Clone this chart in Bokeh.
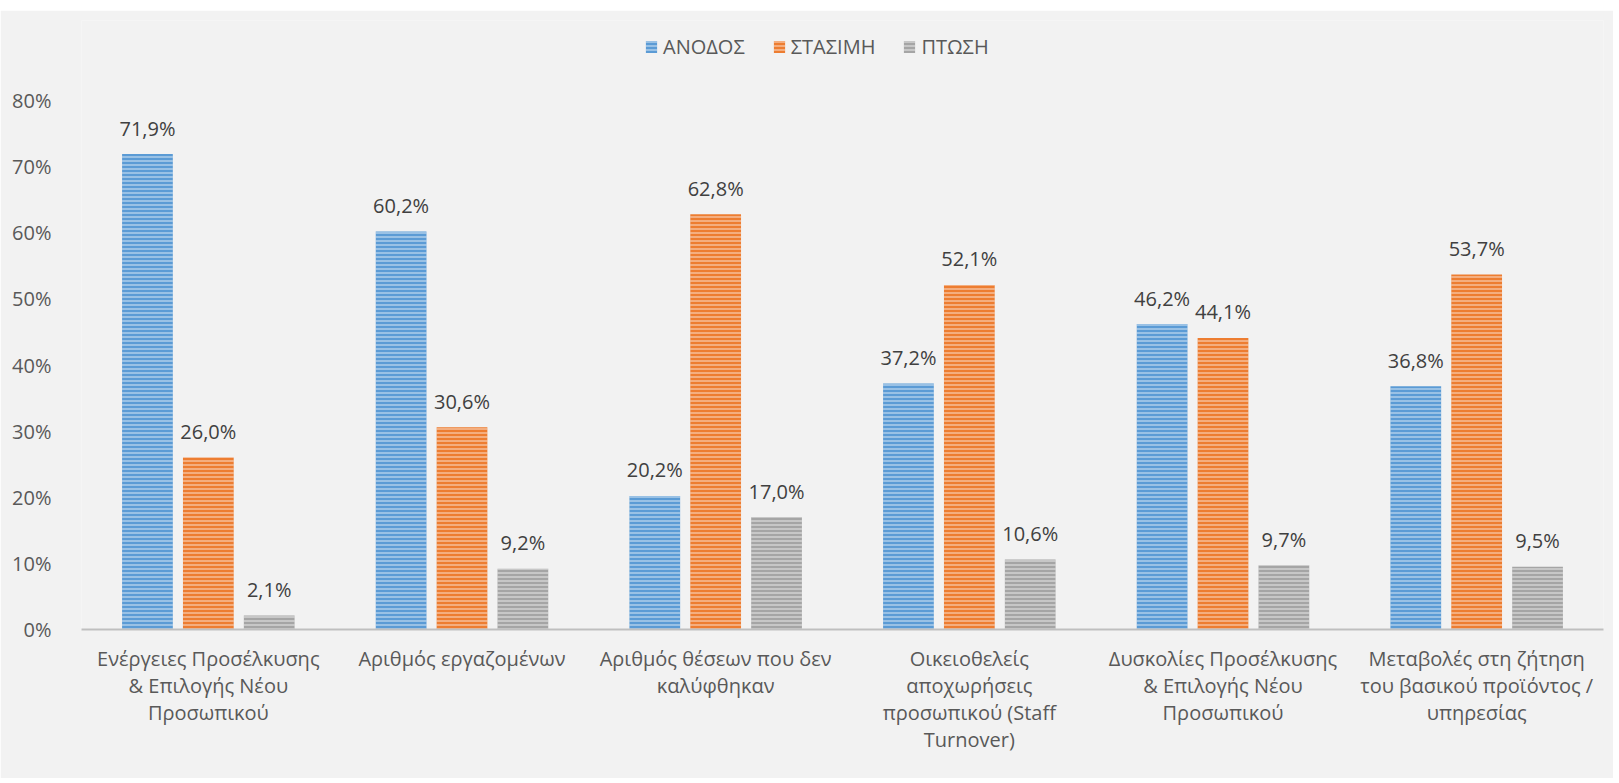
from bokeh.plotting import figure
from bokeh.models import (ColumnDataSource, FactorRange, Range1d, FixedTicker,
                          PrintfTickFormatter, Legend, LegendItem)
from bokeh.transform import dodge
from bokeh.embed import file_html
from bokeh.resources import INLINE
from bokeh.core.properties import value

categories = [
    "Ενέργειες Προσέλκυσης\n& Επιλογής Νέου\nΠροσωπικού",
    "Αριθμός εργαζομένων",
    "Αριθμός θέσεων που δεν\nκαλύφθηκαν",
    "Οικειοθελείς\nαποχωρήσεις\nπροσωπικού (Staff\nTurnover)",
    "Δυσκολίες Προσέλκυσης\n& Επιλογής Νέου\nΠροσωπικού",
    "Μεταβολές στη ζήτηση\nτου βασικού προϊόντος /\nυπηρεσίας",
]
series_names = ["ΑΝΟΔΟΣ", "ΣΤΑΣΙΜΗ", "ΠΤΩΣΗ"]
anodos = [71.9, 60.2, 20.2, 37.2, 46.2, 36.8]
stasimi = [26.0, 30.6, 62.8, 52.1, 44.1, 53.7]
ptosi = [2.1, 9.2, 17.0, 10.6, 9.7, 9.5]
y_ticks = [0, 10, 20, 30, 40, 50, 60, 70, 80]

colors = ["#5B9BD5", "#ED7D31", "#A5A5A5"]
FONT = value("Open Sans")


def fmt(v):
    return f"{v:.1f}".replace(".", ",") + "%"


src = ColumnDataSource(dict(
    cat=categories,
    s0=anodos, s1=stasimi, s2=ptosi,
    l0=[fmt(v) for v in anodos],
    l1=[fmt(v) for v in stasimi],
    l2=[fmt(v) for v in ptosi],
))

p = figure(
    width=1613, height=768,
    x_range=FactorRange(factors=categories, range_padding=0),
    y_range=Range1d(0, 92.1),
    output_backend="svg", toolbar_location=None,
    min_border_left=81, min_border_right=10,
    min_border_top=10, min_border_bottom=149,
)
p.margin = (10, 0, 0, 0)
p.background_fill_color = "#F2F2F2"
p.border_fill_color = "#F2F2F2"
p.outline_line_color = None
p.xgrid.grid_line_color = None
p.ygrid.grid_line_color = None

offsets = [-0.24, 0.0, 0.24]
renderers = []
for i, off in enumerate(offsets):
    r = p.vbar(x=dodge("cat", off, range=p.x_range), top=f"s{i}", width=0.2,
               source=src, fill_color=colors[i], line_color=None,
               hatch_pattern="horizontal_line", hatch_color="white",
               hatch_alpha=0.5, hatch_scale=4, hatch_weight=1.5)
    renderers.append(r)
    p.text(x=dodge("cat", off, range=p.x_range), y=f"s{i}", text=f"l{i}",
           source=src, text_align="center", text_baseline="alphabetic",
           y_offset=-26, text_font=FONT, text_font_size="20px",
           text_color="#404040")

legend = Legend(
    items=[LegendItem(label=series_names[i], renderers=[renderers[i]]) for i in range(3)],
    orientation="horizontal", location=(563, 569),
    label_text_font="Open Sans", label_text_font_size="20px",
    label_text_color="#595959", glyph_width=14, glyph_height=15,
    label_standoff=5, spacing=27, margin=0, padding=10,
    background_fill_alpha=0, border_line_color=None,
)
p.add_layout(legend)

p.yaxis.ticker = FixedTicker(ticks=y_ticks)
p.yaxis.formatter = PrintfTickFormatter(format="%d%%")
p.yaxis.axis_line_color = None
p.yaxis.major_tick_line_color = None
p.yaxis.minor_tick_line_color = None
p.yaxis.major_label_standoff = 24
p.yaxis.major_label_text_font = "Open Sans"
p.yaxis.major_label_text_font_size = "20px"
p.yaxis.major_label_text_color = "#595959"

p.xaxis.axis_line_color = "#BFBFBF"
p.xaxis.axis_line_width = 2
p.xaxis.major_tick_line_color = None
p.xaxis.minor_tick_line_color = None
p.xaxis.major_label_standoff = 9
p.xaxis.major_label_text_font = "Open Sans"
p.xaxis.major_label_text_font_size = "20px"
p.xaxis.major_label_text_color = "#595959"
p.xaxis.major_label_text_align = "center"
p.xaxis.major_label_text_line_height = 1.0

open("out.html", "w").write(file_html(p, INLINE))
